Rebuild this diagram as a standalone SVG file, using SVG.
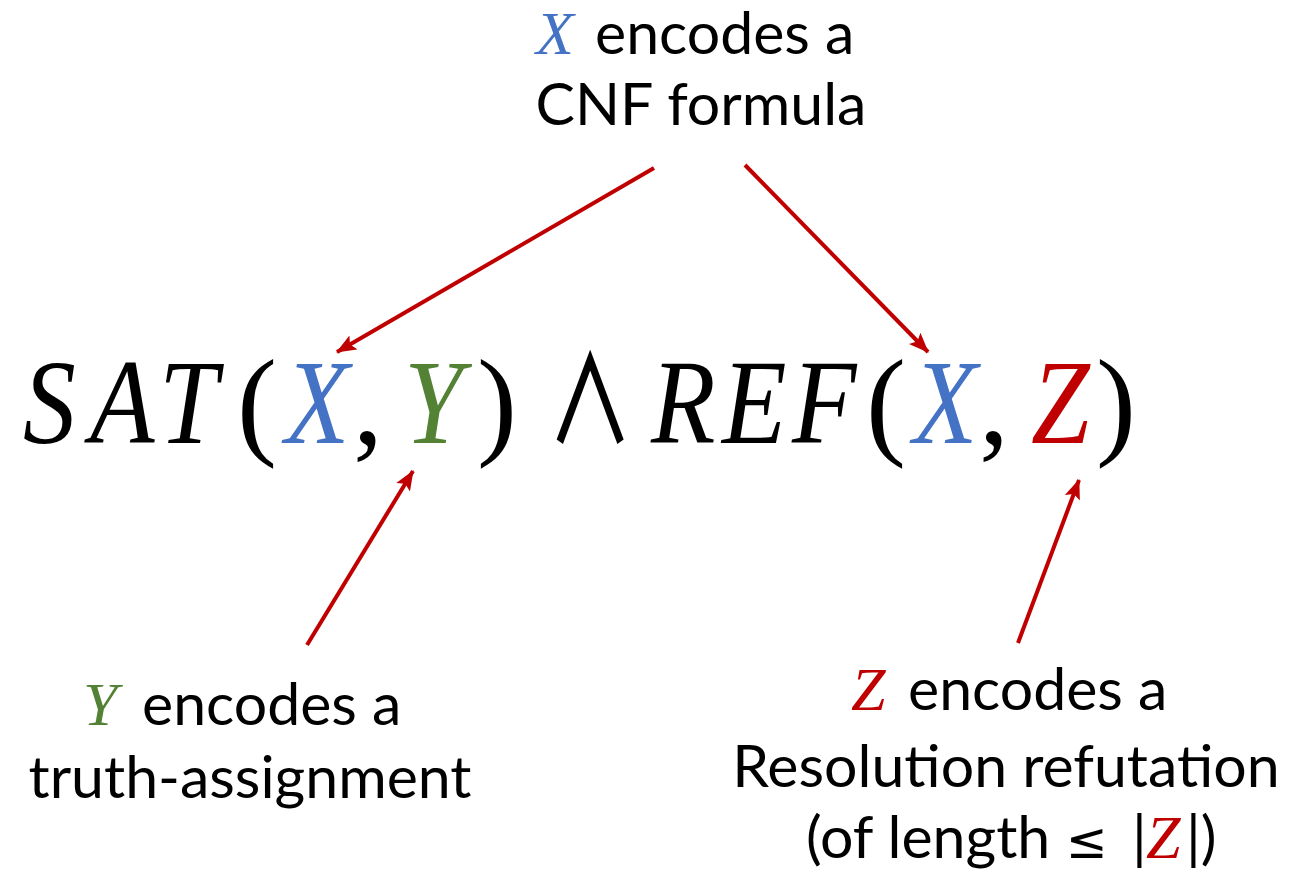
<svg xmlns="http://www.w3.org/2000/svg" width="1291" height="875" viewBox="0 0 1291 875">
<defs>
<marker id="ah" markerUnits="userSpaceOnUse" markerWidth="20" markerHeight="18" viewBox="0 0 20 18" refX="19" refY="9" orient="auto">
<path d="M0,1 L20,9 L0,17 L4,9 Z" fill="#C00000"/>
</marker>
<style>
.lbl{font-family:Lato,"Open Sans","Liberation Sans",sans-serif;font-size:59px;fill:#000}
.mi{font-family:"Liberation Serif","DejaVu Serif",serif;font-style:italic}
.mu{font-family:"Liberation Serif","DejaVu Serif",serif}
.big{font-size:120px}
.sm{font-size:62px}
.blue{fill:#4472C4}
.green{fill:#548235}
.red{fill:#C00000}
.blk{fill:#000}
.arr{stroke:#C00000;stroke-width:4;fill:none;marker-end:url(#ah)}
</style>
</defs>
<rect width="1291" height="875" fill="#fff"/>
<g id="formula">
<text class="mi big blk" transform="translate(23,443) scale(0.88,1)">S</text>
<text class="mi big blk" transform="translate(90,443) scale(0.88,1)">A</text>
<text class="mi big blk" transform="translate(159,443) scale(0.88,1)">T</text>
<text class="mu big blk" x="237" y="443">(</text>
<text class="mi big blue" transform="translate(285,443) scale(0.88,1)">X</text>
<text class="mu big blk" x="353" y="443">,</text>
<text class="mi big green" transform="translate(404,443) scale(0.88,1)">Y</text>
<text class="mu big blk" x="477" y="443">)</text>
<text class="blk" transform="translate(547,443) scale(0.72,1)" style="font-family:'Noto Sans CJK JP',sans-serif;font-size:120px;font-weight:500">∧</text>
<text class="mi big blk" transform="translate(651,443) scale(0.88,1)">R</text>
<text class="mi big blk" transform="translate(722,443) scale(0.88,1)">E</text>
<text class="mi big blk" transform="translate(792,443) scale(0.88,1)">F</text>
<text class="mu big blk" x="866" y="443">(</text>
<text class="mi big blue" transform="translate(913,443) scale(0.88,1)">X</text>
<text class="mu big blk" x="979" y="443">,</text>
<text class="mi big red" transform="translate(1031,443) scale(0.88,1)">Z</text>
<text class="mu big blk" x="1096" y="443">)</text>
</g>
<g id="label-x">
<text y="54"><tspan class="mi sm blue" x="536">X</tspan><tspan class="lbl" x="595">encodes a</tspan></text>
<text class="lbl" x="701" y="125" text-anchor="middle">CNF formula</text>
</g>
<g id="label-y">
<text y="725"><tspan class="mi sm green" x="83">Y</tspan><tspan class="lbl" x="142">encodes a</tspan></text>
<text class="lbl" x="250" y="798" text-anchor="middle">truth-assignment</text>
</g>
<g id="label-z">
<text y="710"><tspan class="mi sm red" x="851">Z</tspan><tspan class="lbl" x="908">encodes a</tspan></text>
<text class="lbl" x="1006" y="787" text-anchor="middle">Resolution refutation</text>
<text class="lbl" y="858"><tspan x="806">(of length</tspan><tspan x="1066" style="font-family:'DejaVu Sans',sans-serif;font-size:50px">≤</tspan><tspan x="1132">|</tspan><tspan class="mi sm red" x="1146">Z</tspan><tspan x="1186">|)</tspan></text>
</g>
<g id="connectors">
<line class="arr" x1="654" y1="168" x2="337" y2="352"/>
<line class="arr" x1="745" y1="165" x2="928" y2="352"/>
<line class="arr" x1="307" y1="645" x2="413" y2="471"/>
<line class="arr" x1="1018" y1="643" x2="1079" y2="480"/>
</g>
</svg>
